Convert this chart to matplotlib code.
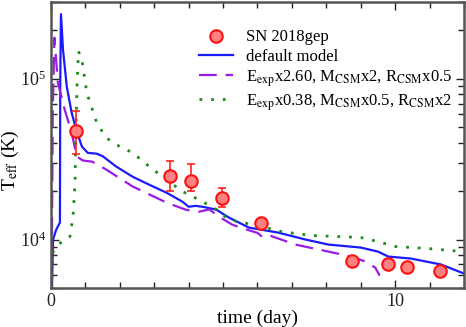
import matplotlib
matplotlib.use("Agg")
import matplotlib.pyplot as plt
from matplotlib.ticker import LogLocator, MultipleLocator, NullFormatter, FixedLocator

plt.rcParams['font.family'] = ['Liberation Serif', 'DejaVu Serif']
plt.rcParams['mathtext.fontset'] = 'stix'

# observed data
obs_t = [0.72, 3.47, 4.08, 4.97, 6.1, 8.76, 9.8, 10.35, 11.3]
obs_T = [47500, 24900, 23200, 18200, 12600, 7400, 7000, 6800, 6400]
obs_up = [63000, 31000, 29500, 21000, None, None, None, None, None]
obs_lo = [34200, 20100, 20100, 16000, None, None, None, None, None]

# default model
def_t = [0.03, 0.06, 0.15, 0.26, 0.27, 0.29, 0.35, 0.46, 0.6, 0.75, 0.9, 1.07, 1.33, 1.5, 1.9,
         2.37, 2.86, 3.35, 3.82, 4.0, 4.2, 4.4, 4.8, 5.17, 5.75, 6.6, 7.4, 8.06, 9.0, 9.5,
         9.8, 10.46, 11.33, 12.0]
def_T = [5000, 10000, 11500, 12750, 100000, 252000, 151000, 89000, 61500, 47000, 37800, 34600,
         34200, 33000, 28400, 24600, 21900, 19600, 17200, 16000, 16200, 16000, 15360, 13700,
         11870, 11050, 10000, 9310, 8920, 8420, 7840, 7620, 7000, 6150]

# E_exp x2.60 model
e26_t = [0.02, 0.05, 0.1, 0.2, 0.4, 0.6, 0.75, 0.93, 1.2, 1.6, 2.37, 3.35, 3.93, 4.3, 4.6,
         4.88, 5.26, 5.5, 6.0, 6.13, 6.3, 7.1, 8.06, 8.73, 9.13, 9.42, 9.55]
e26_T = [5000, 60000, 180000, 94400, 64100, 46300, 32800, 31000, 30500, 27300, 21400, 17000,
         15300, 14900, 15400, 13900, 12400, 11870, 11000, 10440, 10700, 9310, 8420, 7840, 7300,
         6700, 5970]

# E_exp x0.38 model
e38_t = [0.02, 0.05, 0.2, 0.55, 0.64, 0.7, 0.72, 0.76, 0.8, 0.9, 1.04, 1.33, 1.6, 2.0, 2.37,
         2.86, 3.35, 3.82, 4.3, 4.8, 5.17, 6.13, 6.7, 7.57, 9.0, 9.5, 10.0, 10.95, 12.0]
e38_T = [5000, 8300, 9300, 10430, 13900, 22600, 46000, 94400, 148000, 131000, 81800, 53300,
         43000, 37800, 34700, 28400, 23600, 19900, 17700, 15400, 13300, 12050, 11200, 10600,
         10300, 9720, 9060, 8800, 8400]

labels = ['SN 2018gep', 'default model',
          r'E$_{\rm exp}$x2.60, M$_{\rm CSM}$x2, R$_{\rm CSM}$x0.5',
          r'E$_{\rm exp}$x0.38, M$_{\rm CSM}$x0.5, R$_{\rm CSM}$x2']

fig = plt.figure(figsize=(4.66, 3.27), dpi=100)
ax = fig.add_axes([0.1094, 0.1193, 0.8863, 0.8746])

eb_t = [t for t, u in zip(obs_t, obs_up) if u is not None]
eb_T = [T for T, u in zip(obs_T, obs_up) if u is not None]
eb_lo = [T - l for T, l, u in zip(obs_T, obs_lo, obs_up) if u is not None]
eb_hi = [u - T for T, u in zip(obs_T, obs_up) if u is not None]
ax.errorbar(eb_t, eb_T, yerr=[eb_lo, eb_hi], fmt='none', ecolor='#ff2020', elinewidth=1.2,
            capsize=3, capthick=1.2, zorder=4)
pts, = ax.plot(obs_t, obs_T, 'o', ms=9, mfc='#ff8080', mec='#ff1010', mew=1.5, zorder=5,
               label=labels[0])
l1, = ax.plot(def_t, def_T, '-', color='#1a1aff', lw=1.6, label=labels[1])
l2, = ax.plot(e26_t, e26_T, '--', color='#9a1ae6', lw=1.6, dashes=(8, 4), label=labels[2])
l3, = ax.plot(e38_t, e38_T, ':', color='#1a8c1a', lw=2.0, dashes=(1, 3.2), label=labels[3])

ax.set_yscale('log')
ax.set_xlim(0, 12)
ax.set_ylim(5000, 3e5)
ax.xaxis.set_major_locator(MultipleLocator(10))
ax.xaxis.set_minor_locator(MultipleLocator(1))
ax.yaxis.set_major_locator(FixedLocator([1e4, 1e5]))
ax.yaxis.set_minor_locator(LogLocator(base=10, subs=range(2, 10)))
ax.yaxis.set_minor_formatter(NullFormatter())
ax.tick_params(which='both', direction='in', top=True, right=True, labelsize=13, colors='#222222')
ax.tick_params(which='major', length=6, width=1)
ax.tick_params(which='minor', length=4, width=1)
for s in ax.spines.values():
    s.set_linewidth(1.8)
    s.set_color('#555555')
ax.set_xlabel('time (day)', fontsize=14, labelpad=0)
fig.text(10 / 466, 1 - 160 / 327, r'T$_{\rm eff}$ (K)', fontsize=14, rotation=90,
         ha='center', va='center')

ax.legend(handles=[pts, l1, l2, l3], loc='upper right', frameon=False, fontsize=12,
          handlelength=2.0, handletextpad=0.8, labelspacing=0.2, borderaxespad=0.3,
          bbox_to_anchor=(1.0, 0.945))

fig.savefig('out.png', dpi=100)
